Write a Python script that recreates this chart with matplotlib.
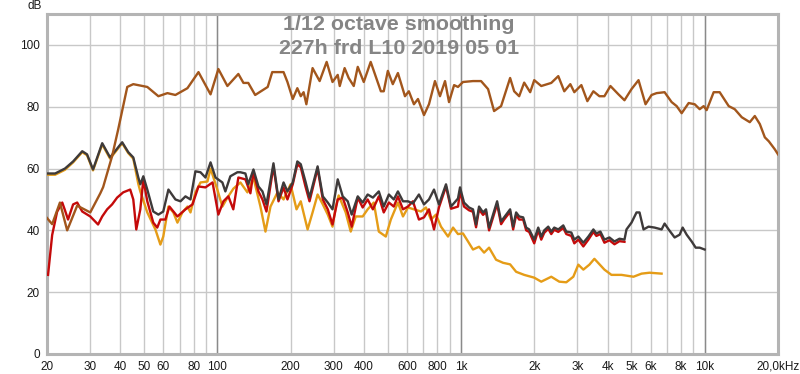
import matplotlib
matplotlib.use("Agg")
import matplotlib.pyplot as plt

plt.rcParams['font.family'] = ['Liberation Sans', 'DejaVu Sans']

title_lines = ["1/12 octave smoothing", "227h frd L10 2019 05 01"]
y_label = "dB"

xtick_vals = [20, 30, 40, 50, 60, 80, 100, 200, 300, 400, 600, 800, 1000,
              2000, 3000, 4000, 5000, 6000, 8000, 10000, 20000]
xtick_labels = ["20", "30", "40", "50", "60", "80", "100", "200", "300", "400",
                "600", "800", "1k", "2k", "3k", "4k", "5k", "6k", "8k", "10k",
                "20,0kHz"]
xminor_vals = [70, 90, 500, 700, 900, 7000, 9000]
ytick_vals = [0, 20, 40, 60, 80, 100]

# Brown series (20 Hz - 20 kHz)
brown_f = [20, 21.0, 22.6, 24.2, 26.6, 30.1, 33.1, 34.0, 37.0, 39.2, 42.7, 45.2,
           51.6, 57.3, 62.4, 67.3, 75.4, 83.7, 93.8, 101, 110, 122, 128, 134, 143,
           161, 168, 187, 194, 204, 213, 220, 226, 232, 246, 263, 281, 297, 312,
           318, 333, 346, 363, 377, 399, 426, 469, 482, 501, 525, 551, 589, 611,
           641, 666, 705, 739, 782, 820, 860, 893, 937, 972, 1019, 1120, 1209,
           1292, 1367, 1461, 1591, 1653, 1733, 1817, 1923, 1998, 2135, 2347, 2508,
           2654, 2810, 2918, 3119, 3301, 3494, 3699, 3878, 4105, 4429, 4688, 5010,
           5353, 5720, 6055, 6349, 6849, 7320, 7675, 8047, 8599, 9102, 9544, 9906,
           10191, 10890, 11527, 12554, 13289, 14201, 15319, 16063, 16842, 17660,
           18342, 19416, 20000]
brown_db = [44, 42, 49, 40, 48, 45.8, 52, 54, 64, 72.7, 86.4, 87.3,
            86.4, 83.4, 84.4, 83.8, 86, 91.2, 84, 92.2, 86.7, 90.6, 87.7, 87.7, 83.8,
            86.4, 91.2, 91.2, 88, 82.5, 86, 83.4, 84.7, 80.8, 92.5, 88.3, 94.5, 88, 90.3,
            86.7, 92.5, 89.3, 86.7, 92.9, 88, 94.5, 85, 85, 91.6, 87.3, 90.9, 83.4, 85,
            80.8, 82.5, 77.3, 80.8, 88.3, 83.4, 88.3, 81.5, 87, 86.4, 88, 88.3, 88.3,
            85.7, 78.6, 80.2, 89.3, 85, 83.4, 87.8, 84.7, 88.6, 86.7, 87.7, 89.9,
            85, 87.3, 84.7, 87, 81.8, 85, 83.4, 83.4, 86.7, 84, 82.1, 85.7,
            88.6, 80.8, 83.8, 84.4, 84.7, 81.5, 80.2, 77.9, 81.2, 80.8, 79.2, 80.2,
            78.9, 84.7, 84.7, 80.2, 79.2, 76.6, 75, 77, 74.4, 70.1,
            68.8, 66.2, 64.6]

# Dark grey series (20 Hz - 10 kHz)
gray_f = [20, 21.6, 23.7, 25.6, 27.9, 29.2, 30.9, 33.7, 36.3, 40.7, 43.1, 45.2,
          47.4, 48.3, 49.7, 51.6, 54.6, 57.3, 60.0, 63.0, 67.3, 70.6, 74.0, 77.6,
          81.3, 85.3, 89.4, 93.8, 98.3, 104.9, 107.9, 113.1, 120.9, 124.4, 130.4,
          134, 140.7, 147.5, 153.2, 159.1, 170, 178.3, 187, 194, 204, 213, 220,
          230, 239, 258, 271, 284, 297, 312, 327, 343, 356, 377, 395, 414, 435,
          460, 482, 506, 530, 551, 578, 606, 635, 672, 705, 739, 775, 812, 868,
          910, 972, 991, 1029, 1079, 1120, 1153, 1186, 1232, 1267, 1304, 1354,
          1407, 1461, 1503, 1591, 1637, 1684, 1733, 1800, 1852, 1905, 1998, 2075,
          2135, 2196, 2281, 2347, 2414, 2508, 2629, 2705, 2837, 2918, 3031, 3178,
          3333, 3494, 3595, 3734, 3878, 4066, 4264, 4471, 4688, 4778, 5010, 5253,
          5404, 5613, 5886, 6230, 6658, 6849, 7114, 7530, 7896, 8124, 8438, 8847,
          9189, 9544, 10000]
gray_db = [58.4, 58.4, 60, 62.3, 65.6, 64.6, 59.7, 68.2, 63.6, 68.5, 65.3, 63.6,
           57.1, 54.9, 57.5, 53.2, 46.1, 45.1, 46.1, 53.2, 50, 49.4, 51, 50,
           59.1, 58.8, 57.1, 62, 57.1, 55.5, 52.6, 57.5, 58.8, 58.8, 58.4,
           54.9, 59.7, 54.2, 52.6, 48.4, 61.7, 50, 55.5, 52.6, 55.5, 62.3, 61.4,
           55.8, 50.6, 60.7, 51, 49, 46.8, 56.5, 51, 49.4, 45.1, 51, 49, 51.6, 50.6,
           52.6, 47.7, 51.6, 50, 52.6, 49.4, 49.4, 48.7, 51.6, 48.4, 50, 53.2, 48.4, 54.9,
           47.7, 50.3, 53.9, 49, 47.4, 46.8, 41.9, 47.7, 45.8, 46.8, 40.9, 45.1,
           49.4, 42.9, 44.2, 46.8, 41.2, 45.8, 44.5, 44.2, 40.9, 40.3, 37, 40.9,
           38, 40, 41.2, 39.6, 40.9, 40.3, 41.6, 39.6, 39.3, 37, 38, 36,
           38, 40.3, 39, 39.6, 37, 37.7, 36.4, 37.3, 37, 40.3, 42.5, 45.8,
           45.8, 40.3, 41.2, 40.9, 40.3, 42.2, 40.3, 37.7, 38.6, 40.9, 38.6, 36.4,
           34.4, 34.4, 33.8]

# Red series (20 Hz - ~4.7 kHz)
red_f = [20.2, 21.0, 22.0, 23.1, 23.7, 24.4, 25.6, 26.6, 27.9, 30.1, 31.5, 32.4,
         33.7, 35.3, 37.0, 38.8, 41.1, 43.9, 45.2, 46.5, 48.3, 49.7, 51.6, 54.6,
         56.7, 58.4, 61.2, 63.6, 68.6, 74.0, 79.1, 83.7, 89.4, 95.6, 101, 105.9,
         111, 116.3, 122, 130.4, 136.7, 140.7, 147.5, 153.2, 159.1, 170, 178.3,
         187, 194, 204, 213, 220, 230, 239, 258, 271, 284, 297, 312, 327, 343,
         356, 377, 395, 414, 435, 460, 482, 506, 530, 551, 578, 606, 635, 672,
         705, 739, 775, 812, 868, 910, 972, 991, 1029, 1079, 1120, 1153, 1186,
         1232, 1267, 1304, 1354, 1407, 1461, 1503, 1591, 1637, 1684, 1733, 1800,
         1852, 1905, 1998, 2075, 2135, 2196, 2281, 2347, 2414, 2508, 2629, 2705,
         2837, 2918, 3031, 3178, 3333, 3494, 3595, 3734, 3878, 4066, 4264, 4471,
         4688]
red_db = [25.6, 38.5, 46, 49, 46.5, 43.5, 48.4, 49, 46.1, 44.5, 42.9, 41.9,
          44.5, 46.8, 48.4, 50.6, 52.3, 53.2, 50, 40.3, 46.8, 56.5, 49.4, 42.5,
          40.9, 43.5, 43.5, 47.7, 44.5, 46.8, 48.4, 54.2, 53.9, 55.5, 45.1, 49.4,
          51, 46.8, 57.1, 56.5, 52, 58.8, 52.6, 50, 46.1, 60.7, 49.4,
          53.9, 50, 54.9, 61.4, 60.4, 54.2, 49.4, 60, 50, 46.8, 41.9, 50, 50.6, 45.8,
          41.2, 50.6, 47.4, 50, 46.8, 51, 45.8, 49, 47.7, 51, 46.8, 47.7, 49.4, 43.5,
          44.2, 46.8, 40.3, 47.4, 54.2, 47, 47.7, 52.6, 47.7, 46.5, 46, 41, 46.8,
          45, 46, 40, 44.2, 48.5, 42, 43.5, 46, 40.3, 45, 43.5, 43.5,
          40, 39.5, 35.8, 40, 37, 39.2, 40.5, 38.8, 40.2, 39.5, 40.8, 38.8,
          38.2, 35.8, 37, 34.8, 37, 39.5, 38.2, 38.8, 36, 36.8, 35.5, 36.5,
          36.3]

# Orange series (20 Hz - ~6.7 kHz)
orange_f = [20, 21.6, 23.7, 25.6, 27.9, 29.2, 30.9, 33.7, 36.3, 40.7, 43.1, 45.2,
            47.4, 48.3, 51.6, 55.7, 58.4, 60.0, 63.0, 66.0, 68.6, 71.9, 75.4, 77.6,
            81.3, 85.3, 91.1, 93.8, 100, 104.9, 109.9, 116.4, 124.4, 132.9, 140.7,
            150.3, 157.6, 165.3, 176.6, 187, 199.8, 211.4, 220, 234.7, 246, 258,
            271, 284, 297, 306, 314.8, 336.4, 352.8, 369.9, 395, 414, 438.7, 460,
            491.5, 515.4, 551, 578, 606, 641, 684.9, 718, 753, 789.6, 828, 884.7,
            927.7, 972, 1019, 1069, 1120, 1186, 1244, 1304, 1393, 1489, 1591, 1684,
            1817, 1998, 2135, 2347, 2532, 2705, 2891, 3031, 3178, 3364, 3528, 3878,
            4145, 4557, 5105, 5508, 5941, 6658]
orange_db = [58, 58, 59.6, 62, 65.3, 64.3, 59.4, 67.8, 63.2, 68.2, 65, 63.2,
             55, 52.6, 45.8, 40.3, 35.4, 38, 47.7, 45.8, 42.5, 45.8, 47.7, 45.8,
             52.3, 55.5, 55.8, 60, 53.2, 47.7, 50.5, 53.5, 55.5, 52.3, 57,
             47.7, 39.6, 47.7, 52.3, 50, 54.9, 46.8, 49.4, 40.3, 45.8, 51.6,
             48.4, 45.1, 41.2, 47.4, 51.3, 45.8, 39.6, 44.5, 44.5, 46.8, 49, 39.6,
             38, 43.5, 49, 44.5, 47.4, 46.8, 46.1, 47.4, 43.5, 45.1, 41.2, 38,
             40.9, 38.8, 39, 36.4, 33.8, 34.7, 32.8, 34.4, 30.5, 29.5, 29, 26.6,
             25.6, 24.7, 23.4, 25, 23.4, 23.2, 25, 28.9, 27.3, 28.9, 30.8, 27.3,
             25.6, 25.6, 25, 26, 26.3, 26]

fig = plt.figure(figsize=(8.0, 3.74), dpi=100)
ax = fig.add_axes([47/800, 1 - 354/374, (778 - 47)/800, (354 - 14)/374])

ax.set_xscale('log')
ax.set_xlim(20, 20000)
ax.set_ylim(0, 110)

ax.set_xticks(xtick_vals)
ax.set_xticklabels(xtick_labels)
ax.set_xticks(xminor_vals, minor=True)
ax.xaxis.set_minor_formatter(matplotlib.ticker.NullFormatter())
ax.set_yticks(ytick_vals)
ax.set_yticklabels([str(v) for v in ytick_vals])
ax.tick_params(axis='both', which='both', length=0, labelsize=8.5,
               labelcolor='#1a1a1a')
ax.tick_params(axis='x', pad=5)
ax.tick_params(axis='y', pad=5)

ax.grid(True, which='both', axis='x', color='#c8c8c8', linewidth=1.0)
ax.grid(True, which='major', axis='y', color='#c8c8c8', linewidth=1.0)
for dec in [100, 1000, 10000]:
    ax.axvline(dec, color='#8a8a8a', linewidth=1.0, zorder=1)
ax.set_axisbelow(True)

for s in ax.spines.values():
    s.set_color('#b4b4b4')
    s.set_linewidth(2.2)

lw = 1.7
ax.plot(orange_f, orange_db, color='#e59c17', linewidth=lw, zorder=3)
ax.plot(red_f, red_db, color='#c40a0a', linewidth=lw, zorder=4)
ax.plot(gray_f, gray_db, color='#3e3a3a', linewidth=lw, zorder=5)
ax.plot(brown_f, brown_db, color='#a2561c', linewidth=lw, zorder=6)

fig.text(399/800, 1 - 25/374, title_lines[0], ha='center', va='center',
         fontsize=15.4, fontweight='bold', color='#858585')
fig.text(399/800, 1 - 48/374, title_lines[1], ha='center', va='center',
         fontsize=15.4, fontweight='bold', color='#858585')
fig.text(35/800, 1 - 6/374, y_label, ha='center', va='center', fontsize=8.5,
         color='#1a1a1a')

fig.savefig('out.png', dpi=100, facecolor='white')
